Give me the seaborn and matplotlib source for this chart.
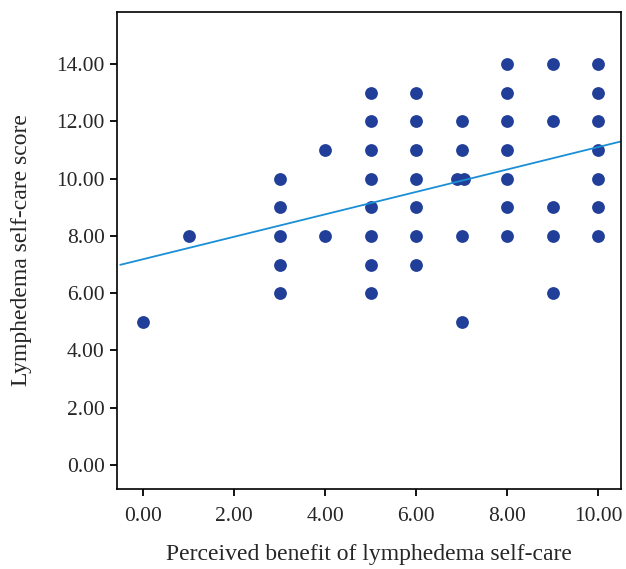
import numpy as np
import pandas as pd
import matplotlib
matplotlib.use("Agg")
import matplotlib.pyplot as plt
import seaborn as sns

# perceived benefit (x) and self-care score (y)
benefit = [0,
           1,
           3, 3, 3, 3, 3,
           4, 4,
           5, 5, 5, 5, 5, 5, 5, 5,
           6, 6, 6, 6, 6, 6, 6,
           7, 7, 6.9, 7.05, 7, 7,
           8, 8, 8, 8, 8, 8, 8,
           9, 9, 9, 9, 9,
           10, 10, 10, 10, 10, 10, 10]
selfcare = [5,
            8,
            10, 9, 8, 7, 6,
            11, 8,
            13, 12, 11, 10, 9, 8, 7, 6,
            13, 12, 11, 10, 9, 8, 7,
            12, 11, 10, 10, 8, 5,
            14, 13, 12, 11, 10, 9, 8,
            14, 12, 9, 8, 6,
            14, 13, 12, 11, 10, 9, 8]

xticks = [0, 2, 4, 6, 8, 10]
yticks = [0, 2, 4, 6, 8, 10, 12, 14]

df = pd.DataFrame({"benefit": benefit, "selfcare": selfcare})

sns.set_style("ticks")
plt.rcParams['font.family'] = ['Liberation Serif', 'DejaVu Serif']

fig = plt.figure(figsize=(6.26, 5.69), dpi=100)
ax = fig.add_axes([0.187, 0.1406, 0.805, 0.8384])

sns.regplot(data=df, x="benefit", y="selfcare", ax=ax, ci=None, truncate=False,
            scatter_kws=dict(s=85, color="#213f99", alpha=1, linewidths=0),
            line_kws=dict(color="#1a8fd6", linewidth=1.3))

ax.set_xlim(-0.57, 10.5)
ax.set_ylim(-0.84, 15.82)
ax.set_xticks(xticks)
ax.set_xticklabels([f"{t:.2f}" for t in xticks])
ax.set_yticks(yticks)
ax.set_yticklabels([f"{t:.2f}" for t in yticks])
ax.tick_params(axis="both", labelsize=15.5, length=5, width=1.3, direction="out", color="black")
ax.tick_params(axis="x", pad=8)
ax.tick_params(axis="y", pad=4)
for sp in ax.spines.values():
    sp.set_linewidth(1.2)
    sp.set_color("black")
ax.set_xlabel("Perceived benefit of lymphedema self-care", fontsize=17, labelpad=13)
ax.set_ylabel("Lymphedema self-care score", fontsize=17, labelpad=17)

fig.savefig("out.png", dpi=100)
